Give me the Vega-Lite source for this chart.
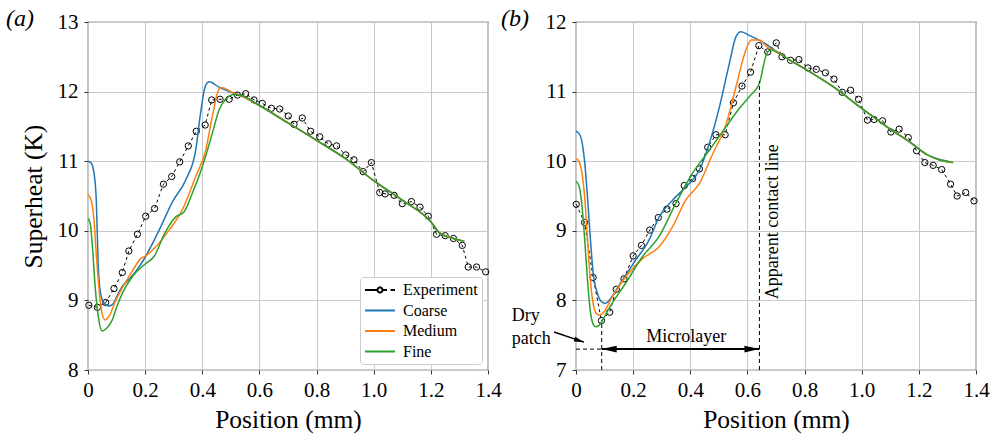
{
"$schema": "https://vega.github.io/schema/vega-lite/v6.json",
"padding": {"left": 5, "top": 6, "right": 10, "bottom": 2},
"spacing": 88,
"bounds": "flush",
"background": "white",
"config": {
  "font": "Liberation Serif, Times New Roman, Times, DejaVu Serif, serif",
  "view": {"stroke": "#333333", "strokeWidth": 1.2},
  "axis": {"labelFont": "Liberation Serif, Times New Roman, Times, DejaVu Serif, serif", "titleFont": "Liberation Serif, Times New Roman, Times, DejaVu Serif, serif", "labelFontSize": 21, "titleFontSize": 25.5, "titleFontWeight": "normal", "labelColor": "black", "titleColor": "black", "gridColor": "#c8c8c8", "gridWidth": 1, "tickColor": "#333333", "tickSize": 4, "domain": false, "labelPadding": 5, "labelFlush": false},
  "axisX": {"titlePadding": 7},
  "axisY": {"titlePadding": 11, "labelPadding": 6},
  "title": {"font": "Liberation Serif, Times New Roman, Times, DejaVu Serif, serif", "fontSize": 24, "fontStyle": "italic", "fontWeight": "normal", "color": "black"},
  "legend": {"labelFont": "Liberation Serif, Times New Roman, Times, DejaVu Serif, serif", "labelFontSize": 16, "labelColor": "black"},
  "text": {"font": "Liberation Serif, Times New Roman, Times, DejaVu Serif, serif"}
},
"resolve": {"scale": {"color": "independent"}, "legend": {"color": "independent"}},
"datasets": {
  "a": [
    {"series":"Experiment","pos":0.003,"sh":8.93},{"series":"Experiment","pos":0.033,"sh":8.9},{"series":"Experiment","pos":0.062,"sh":8.97},{"series":"Experiment","pos":0.091,"sh":9.17},{"series":"Experiment","pos":0.12,"sh":9.4},{"series":"Experiment","pos":0.143,"sh":9.71},{"series":"Experiment","pos":0.173,"sh":9.95},{"series":"Experiment","pos":0.202,"sh":10.21},{"series":"Experiment","pos":0.233,"sh":10.32},{"series":"Experiment","pos":0.264,"sh":10.67},{"series":"Experiment","pos":0.293,"sh":10.78},{"series":"Experiment","pos":0.321,"sh":10.99},{"series":"Experiment","pos":0.351,"sh":11.22},{"series":"Experiment","pos":0.379,"sh":11.43},{"series":"Experiment","pos":0.41,"sh":11.52},{"series":"Experiment","pos":0.433,"sh":11.88},{"series":"Experiment","pos":0.462,"sh":11.89},{"series":"Experiment","pos":0.494,"sh":11.89},{"series":"Experiment","pos":0.523,"sh":11.95},{"series":"Experiment","pos":0.552,"sh":11.97},{"series":"Experiment","pos":0.581,"sh":11.88},{"series":"Experiment","pos":0.61,"sh":11.83},{"series":"Experiment","pos":0.642,"sh":11.76},{"series":"Experiment","pos":0.671,"sh":11.75},{"series":"Experiment","pos":0.701,"sh":11.65},{"series":"Experiment","pos":0.721,"sh":11.53},{"series":"Experiment","pos":0.75,"sh":11.62},{"series":"Experiment","pos":0.779,"sh":11.43},{"series":"Experiment","pos":0.811,"sh":11.35},{"series":"Experiment","pos":0.841,"sh":11.25},{"series":"Experiment","pos":0.87,"sh":11.22},{"series":"Experiment","pos":0.902,"sh":11.09},{"series":"Experiment","pos":0.931,"sh":11.02},{"series":"Experiment","pos":0.963,"sh":10.85},{"series":"Experiment","pos":0.992,"sh":10.98},{"series":"Experiment","pos":1.021,"sh":10.55},{"series":"Experiment","pos":1.04,"sh":10.53},{"series":"Experiment","pos":1.071,"sh":10.51},{"series":"Experiment","pos":1.1,"sh":10.39},{"series":"Experiment","pos":1.132,"sh":10.42},{"series":"Experiment","pos":1.162,"sh":10.34},{"series":"Experiment","pos":1.191,"sh":10.21},{"series":"Experiment","pos":1.22,"sh":9.95},{"series":"Experiment","pos":1.25,"sh":9.93},{"series":"Experiment","pos":1.279,"sh":9.89},{"series":"Experiment","pos":1.31,"sh":9.79},{"series":"Experiment","pos":1.331,"sh":9.48},{"series":"Experiment","pos":1.36,"sh":9.48},{"series":"Experiment","pos":1.392,"sh":9.41},
    {"series":"Coarse","pos":0,"sh":11.0},{"series":"Coarse","pos":0.01,"sh":10.98},{"series":"Coarse","pos":0.021,"sh":10.83},{"series":"Coarse","pos":0.029,"sh":10.44},{"series":"Coarse","pos":0.036,"sh":9.48},{"series":"Coarse","pos":0.044,"sh":9.1},{"series":"Coarse","pos":0.055,"sh":8.97},{"series":"Coarse","pos":0.073,"sh":8.92},{"series":"Coarse","pos":0.088,"sh":8.95},{"series":"Coarse","pos":0.1,"sh":9.05},{"series":"Coarse","pos":0.12,"sh":9.2},{"series":"Coarse","pos":0.143,"sh":9.3},{"series":"Coarse","pos":0.17,"sh":9.43},{"series":"Coarse","pos":0.2,"sh":9.62},{"series":"Coarse","pos":0.249,"sh":10.01},{"series":"Coarse","pos":0.296,"sh":10.42},{"series":"Coarse","pos":0.342,"sh":10.73},{"series":"Coarse","pos":0.377,"sh":11.16},{"series":"Coarse","pos":0.394,"sh":11.69},{"series":"Coarse","pos":0.41,"sh":12.07},{"series":"Coarse","pos":0.424,"sh":12.14},{"series":"Coarse","pos":0.46,"sh":12.06},{"series":"Coarse","pos":0.494,"sh":12.0},{"series":"Coarse","pos":0.53,"sh":11.95},{"series":"Coarse","pos":0.6,"sh":11.8},{"series":"Coarse","pos":0.7,"sh":11.55},{"series":"Coarse","pos":0.8,"sh":11.3},{"series":"Coarse","pos":0.9,"sh":11.04},{"series":"Coarse","pos":1.0,"sh":10.72},{"series":"Coarse","pos":1.1,"sh":10.44},{"series":"Coarse","pos":1.2,"sh":10.13},{"series":"Coarse","pos":1.23,"sh":9.97},{"series":"Coarse","pos":1.27,"sh":9.9},{"series":"Coarse","pos":1.305,"sh":9.86},
    {"series":"Medium","pos":0,"sh":10.52},{"series":"Medium","pos":0.01,"sh":10.45},{"series":"Medium","pos":0.02,"sh":10.2},{"series":"Medium","pos":0.03,"sh":9.6},{"series":"Medium","pos":0.04,"sh":9.1},{"series":"Medium","pos":0.05,"sh":8.8},{"series":"Medium","pos":0.06,"sh":8.72},{"series":"Medium","pos":0.075,"sh":8.78},{"series":"Medium","pos":0.097,"sh":9.0},{"series":"Medium","pos":0.12,"sh":9.18},{"series":"Medium","pos":0.143,"sh":9.34},{"series":"Medium","pos":0.17,"sh":9.52},{"series":"Medium","pos":0.184,"sh":9.6},{"series":"Medium","pos":0.202,"sh":9.64},{"series":"Medium","pos":0.237,"sh":9.77},{"series":"Medium","pos":0.284,"sh":10.01},{"series":"Medium","pos":0.33,"sh":10.3},{"series":"Medium","pos":0.377,"sh":10.78},{"series":"Medium","pos":0.412,"sh":11.16},{"series":"Medium","pos":0.435,"sh":11.64},{"series":"Medium","pos":0.459,"sh":12.04},{"series":"Medium","pos":0.47,"sh":12.06},{"series":"Medium","pos":0.5,"sh":12.0},{"series":"Medium","pos":0.53,"sh":11.95},{"series":"Medium","pos":0.6,"sh":11.8},{"series":"Medium","pos":0.7,"sh":11.55},{"series":"Medium","pos":0.8,"sh":11.3},{"series":"Medium","pos":0.9,"sh":11.04},{"series":"Medium","pos":1.0,"sh":10.72},{"series":"Medium","pos":1.1,"sh":10.44},{"series":"Medium","pos":1.2,"sh":10.13},{"series":"Medium","pos":1.23,"sh":9.97},{"series":"Medium","pos":1.27,"sh":9.9},{"series":"Medium","pos":1.315,"sh":9.85},
    {"series":"Fine","pos":0,"sh":10.18},{"series":"Fine","pos":0.008,"sh":10.1},{"series":"Fine","pos":0.015,"sh":9.8},{"series":"Fine","pos":0.025,"sh":9.2},{"series":"Fine","pos":0.035,"sh":8.8},{"series":"Fine","pos":0.05,"sh":8.56},{"series":"Fine","pos":0.065,"sh":8.6},{"series":"Fine","pos":0.085,"sh":8.72},{"series":"Fine","pos":0.1,"sh":8.9},{"series":"Fine","pos":0.12,"sh":9.1},{"series":"Fine","pos":0.155,"sh":9.34},{"series":"Fine","pos":0.202,"sh":9.53},{"series":"Fine","pos":0.231,"sh":9.63},{"series":"Fine","pos":0.268,"sh":9.96},{"series":"Fine","pos":0.307,"sh":10.2},{"series":"Fine","pos":0.336,"sh":10.27},{"series":"Fine","pos":0.365,"sh":10.54},{"series":"Fine","pos":0.4,"sh":10.92},{"series":"Fine","pos":0.435,"sh":11.4},{"series":"Fine","pos":0.459,"sh":11.74},{"series":"Fine","pos":0.482,"sh":11.89},{"series":"Fine","pos":0.511,"sh":11.96},{"series":"Fine","pos":0.54,"sh":11.94},{"series":"Fine","pos":0.6,"sh":11.8},{"series":"Fine","pos":0.7,"sh":11.55},{"series":"Fine","pos":0.8,"sh":11.3},{"series":"Fine","pos":0.9,"sh":11.04},{"series":"Fine","pos":1.0,"sh":10.72},{"series":"Fine","pos":1.1,"sh":10.44},{"series":"Fine","pos":1.2,"sh":10.13},{"series":"Fine","pos":1.23,"sh":9.97},{"series":"Fine","pos":1.27,"sh":9.9},{"series":"Fine","pos":1.318,"sh":9.85}
  ],
  "b": [
    {"series":"Experiment","pos":0.001,"sh":9.38},{"series":"Experiment","pos":0.03,"sh":9.12},{"series":"Experiment","pos":0.06,"sh":8.33},{"series":"Experiment","pos":0.089,"sh":7.71},{"series":"Experiment","pos":0.118,"sh":7.83},{"series":"Experiment","pos":0.141,"sh":8.16},{"series":"Experiment","pos":0.168,"sh":8.31},{"series":"Experiment","pos":0.2,"sh":8.64},{"series":"Experiment","pos":0.229,"sh":8.79},{"series":"Experiment","pos":0.258,"sh":9.01},{"series":"Experiment","pos":0.288,"sh":9.19},{"series":"Experiment","pos":0.318,"sh":9.31},{"series":"Experiment","pos":0.35,"sh":9.39},{"series":"Experiment","pos":0.379,"sh":9.65},{"series":"Experiment","pos":0.408,"sh":9.75},{"series":"Experiment","pos":0.432,"sh":9.89},{"series":"Experiment","pos":0.461,"sh":10.2},{"series":"Experiment","pos":0.49,"sh":10.38},{"series":"Experiment","pos":0.522,"sh":10.38},{"series":"Experiment","pos":0.551,"sh":10.84},{"series":"Experiment","pos":0.581,"sh":11.08},{"series":"Experiment","pos":0.611,"sh":11.28},{"series":"Experiment","pos":0.64,"sh":11.66},{"series":"Experiment","pos":0.671,"sh":11.57},{"series":"Experiment","pos":0.701,"sh":11.7},{"series":"Experiment","pos":0.721,"sh":11.5},{"series":"Experiment","pos":0.751,"sh":11.45},{"series":"Experiment","pos":0.78,"sh":11.46},{"series":"Experiment","pos":0.812,"sh":11.34},{"series":"Experiment","pos":0.841,"sh":11.32},{"series":"Experiment","pos":0.873,"sh":11.27},{"series":"Experiment","pos":0.903,"sh":11.18},{"series":"Experiment","pos":0.932,"sh":10.99},{"series":"Experiment","pos":0.961,"sh":11.02},{"series":"Experiment","pos":0.989,"sh":10.89},{"series":"Experiment","pos":1.02,"sh":10.59},{"series":"Experiment","pos":1.043,"sh":10.6},{"series":"Experiment","pos":1.073,"sh":10.58},{"series":"Experiment","pos":1.102,"sh":10.42},{"series":"Experiment","pos":1.131,"sh":10.46},{"series":"Experiment","pos":1.163,"sh":10.34},{"series":"Experiment","pos":1.192,"sh":10.15},{"series":"Experiment","pos":1.221,"sh":9.98},{"series":"Experiment","pos":1.25,"sh":9.94},{"series":"Experiment","pos":1.28,"sh":9.88},{"series":"Experiment","pos":1.311,"sh":9.67},{"series":"Experiment","pos":1.334,"sh":9.5},{"series":"Experiment","pos":1.364,"sh":9.55},{"series":"Experiment","pos":1.393,"sh":9.43},
    {"series":"Coarse","pos":0,"sh":10.43},{"series":"Coarse","pos":0.01,"sh":10.4},{"series":"Coarse","pos":0.02,"sh":10.3},{"series":"Coarse","pos":0.03,"sh":10.0},{"series":"Coarse","pos":0.04,"sh":9.5},{"series":"Coarse","pos":0.05,"sh":8.9},{"series":"Coarse","pos":0.06,"sh":8.4},{"series":"Coarse","pos":0.075,"sh":8.1},{"series":"Coarse","pos":0.09,"sh":7.98},{"series":"Coarse","pos":0.104,"sh":7.96},{"series":"Coarse","pos":0.12,"sh":8.02},{"series":"Coarse","pos":0.151,"sh":8.22},{"series":"Coarse","pos":0.209,"sh":8.58},{"series":"Coarse","pos":0.256,"sh":8.87},{"series":"Coarse","pos":0.291,"sh":9.2},{"series":"Coarse","pos":0.338,"sh":9.44},{"series":"Coarse","pos":0.384,"sh":9.63},{"series":"Coarse","pos":0.432,"sh":9.87},{"series":"Coarse","pos":0.467,"sh":10.26},{"series":"Coarse","pos":0.502,"sh":10.78},{"series":"Coarse","pos":0.537,"sh":11.41},{"series":"Coarse","pos":0.56,"sh":11.79},{"series":"Coarse","pos":0.577,"sh":11.86},{"series":"Coarse","pos":0.61,"sh":11.8},{"series":"Coarse","pos":0.64,"sh":11.74},{"series":"Coarse","pos":0.67,"sh":11.67},{"series":"Coarse","pos":0.7,"sh":11.58},{"series":"Coarse","pos":0.75,"sh":11.45},{"series":"Coarse","pos":0.8,"sh":11.33},{"series":"Coarse","pos":0.9,"sh":11.07},{"series":"Coarse","pos":1.0,"sh":10.76},{"series":"Coarse","pos":1.1,"sh":10.46},{"series":"Coarse","pos":1.17,"sh":10.27},{"series":"Coarse","pos":1.23,"sh":10.09},{"series":"Coarse","pos":1.27,"sh":10.03},{"series":"Coarse","pos":1.303,"sh":10.0},
    {"series":"Medium","pos":0,"sh":10.04},{"series":"Medium","pos":0.01,"sh":10.0},{"series":"Medium","pos":0.02,"sh":9.85},{"series":"Medium","pos":0.03,"sh":9.5},{"series":"Medium","pos":0.04,"sh":8.9},{"series":"Medium","pos":0.05,"sh":8.3},{"series":"Medium","pos":0.06,"sh":7.95},{"series":"Medium","pos":0.07,"sh":7.82},{"series":"Medium","pos":0.081,"sh":7.79},{"series":"Medium","pos":0.095,"sh":7.82},{"series":"Medium","pos":0.127,"sh":8.05},{"series":"Medium","pos":0.174,"sh":8.34},{"series":"Medium","pos":0.233,"sh":8.6},{"series":"Medium","pos":0.291,"sh":8.77},{"series":"Medium","pos":0.338,"sh":9.06},{"series":"Medium","pos":0.384,"sh":9.44},{"series":"Medium","pos":0.432,"sh":9.68},{"series":"Medium","pos":0.479,"sh":10.11},{"series":"Medium","pos":0.526,"sh":10.54},{"series":"Medium","pos":0.56,"sh":11.07},{"series":"Medium","pos":0.595,"sh":11.6},{"series":"Medium","pos":0.613,"sh":11.74},{"series":"Medium","pos":0.642,"sh":11.74},{"series":"Medium","pos":0.666,"sh":11.65},{"series":"Medium","pos":0.7,"sh":11.58},{"series":"Medium","pos":0.75,"sh":11.45},{"series":"Medium","pos":0.8,"sh":11.33},{"series":"Medium","pos":0.9,"sh":11.07},{"series":"Medium","pos":1.0,"sh":10.76},{"series":"Medium","pos":1.1,"sh":10.46},{"series":"Medium","pos":1.17,"sh":10.27},{"series":"Medium","pos":1.23,"sh":10.09},{"series":"Medium","pos":1.27,"sh":10.02},{"series":"Medium","pos":1.32,"sh":9.98},
    {"series":"Fine","pos":0,"sh":9.71},{"series":"Fine","pos":0.01,"sh":9.65},{"series":"Fine","pos":0.02,"sh":9.4},{"series":"Fine","pos":0.03,"sh":8.9},{"series":"Fine","pos":0.04,"sh":8.3},{"series":"Fine","pos":0.05,"sh":7.85},{"series":"Fine","pos":0.06,"sh":7.66},{"series":"Fine","pos":0.069,"sh":7.62},{"series":"Fine","pos":0.08,"sh":7.64},{"series":"Fine","pos":0.116,"sh":7.89},{"series":"Fine","pos":0.174,"sh":8.25},{"series":"Fine","pos":0.233,"sh":8.63},{"series":"Fine","pos":0.291,"sh":8.92},{"series":"Fine","pos":0.35,"sh":9.4},{"series":"Fine","pos":0.408,"sh":9.83},{"series":"Fine","pos":0.467,"sh":10.16},{"series":"Fine","pos":0.526,"sh":10.5},{"series":"Fine","pos":0.572,"sh":10.76},{"series":"Fine","pos":0.607,"sh":10.93},{"series":"Fine","pos":0.642,"sh":11.12},{"series":"Fine","pos":0.666,"sh":11.53},{"series":"Fine","pos":0.683,"sh":11.6},{"series":"Fine","pos":0.7,"sh":11.57},{"series":"Fine","pos":0.75,"sh":11.45},{"series":"Fine","pos":0.8,"sh":11.33},{"series":"Fine","pos":0.9,"sh":11.07},{"series":"Fine","pos":1.0,"sh":10.76},{"series":"Fine","pos":1.1,"sh":10.46},{"series":"Fine","pos":1.17,"sh":10.27},{"series":"Fine","pos":1.23,"sh":10.09},{"series":"Fine","pos":1.27,"sh":10.02},{"series":"Fine","pos":1.32,"sh":9.98}
  ]
},
"hconcat": [
  {
    "width": 400, "height": 348,
    "title": {"text": "(a)", "anchor": "start", "frame": "group", "dx": -82, "offset": -20},
    "encoding": {
      "x": {"field": "pos", "type": "quantitative", "scale": {"domain": [0, 1.4], "nice": false}, "axis": {"values": [0, 0.2, 0.4, 0.6, 0.8, 1.0, 1.2, 1.4], "labelExpr": "datum.value === 0 ? '0' : format(datum.value, '.1f')", "title": "Position (mm)", "labelFont": "Liberation Serif, Times New Roman, serif", "titleFont": "Liberation Serif, Times New Roman, serif"}},
      "y": {"field": "sh", "type": "quantitative", "scale": {"domain": [8, 13], "nice": false, "zero": false}, "axis": {"values": [8, 9, 10, 11, 12, 13], "title": "Superheat (K)", "labelFont": "Liberation Serif, Times New Roman, serif", "titleFont": "Liberation Serif, Times New Roman, serif"}}
    },
    "layer": [
      {"data": {"name": "a"}, "transform": [{"filter": "datum.series === 'Experiment'"}],
       "mark": {"type": "line", "strokeDash": [3, 3], "strokeWidth": 1},
       "encoding": {"color": {"field": "series", "type": "nominal",
          "scale": {"domain": ["Experiment", "Coarse", "Medium", "Fine"], "range": ["#000000", "#1f77b4", "#ff7f0e", "#2ca02c"]},
          "legend": {"title": null, "orient": "bottom-right", "offset": 6, "symbolType": "stroke", "symbolSize": 256, "symbolStrokeWidth": 2, "labelOffset": 21, "padding": 4, "fillColor": "white", "strokeColor": "#cccccc", "cornerRadius": 3, "rowPadding": 3.5,
            "encode": {"symbols": {"update": {"shape": {"signal": "datum.value === 'Experiment' ? 'M-1,0L0.56,0M1.19,0A0.31,0.31,0,1,1,0.56,0A0.31,0.31,0,1,1,1.19,0M1.19,0L1.75,0M2.2,0L2.75,0' : 'M-1,0L2.75,0'"}, "strokeDash": {"value": [1, 0]}, "strokeWidth": {"value": 2}}}}}}}},
      {"data": {"name": "a"}, "transform": [{"filter": "datum.series === 'Experiment'"}],
       "mark": {"type": "point", "shape": "circle", "filled": false, "color": "black", "size": 40, "strokeWidth": 1, "opacity": 1}},
      {"data": {"name": "a"}, "transform": [{"filter": "datum.series !== 'Experiment'"}],
       "mark": {"type": "line", "strokeWidth": 1.5, "interpolate": "monotone"},
       "encoding": {"color": {"field": "series", "type": "nominal",
          "scale": {"domain": ["Experiment", "Coarse", "Medium", "Fine"], "range": ["#000000", "#1f77b4", "#ff7f0e", "#2ca02c"]}}}}
    ]
  },
  {
    "width": 400, "height": 348,
    "title": {"text": "(b)", "anchor": "start", "frame": "group", "dx": -75, "offset": -20},
    "encoding": {
      "x": {"field": "pos", "type": "quantitative", "scale": {"domain": [0, 1.4], "nice": false}, "axis": {"values": [0, 0.2, 0.4, 0.6, 0.8, 1.0, 1.2, 1.4], "labelExpr": "datum.value === 0 ? '0' : format(datum.value, '.1f')", "title": "Position (mm)", "labelFont": "Liberation Serif, Times New Roman, serif", "titleFont": "Liberation Serif, Times New Roman, serif"}},
      "y": {"field": "sh", "type": "quantitative", "scale": {"domain": [7, 12], "nice": false, "zero": false}, "axis": {"values": [7, 8, 9, 10, 11, 12], "title": null, "labelFont": "Liberation Serif, Times New Roman, serif"}}
    },
    "layer": [
      {"data": {"name": "b"}, "transform": [{"filter": "datum.series === 'Experiment'"}],
       "mark": {"type": "line", "strokeDash": [3, 3], "strokeWidth": 1},
       "encoding": {"color": {"field": "series", "type": "nominal",
          "scale": {"domain": ["Experiment", "Coarse", "Medium", "Fine"], "range": ["#000000", "#1f77b4", "#ff7f0e", "#2ca02c"]}, "legend": null}}},
      {"data": {"name": "b"}, "transform": [{"filter": "datum.series === 'Experiment'"}],
       "mark": {"type": "point", "shape": "circle", "filled": false, "color": "black", "size": 40, "strokeWidth": 1, "opacity": 1}},
      {"data": {"name": "b"}, "transform": [{"filter": "datum.series !== 'Experiment'"}],
       "mark": {"type": "line", "strokeWidth": 1.5, "interpolate": "monotone"},
       "encoding": {"color": {"field": "series", "type": "nominal",
          "scale": {"domain": ["Experiment", "Coarse", "Medium", "Fine"], "range": ["#000000", "#1f77b4", "#ff7f0e", "#2ca02c"]}, "legend": null}}},
      {"data": {"values": [{"pos": 0.09, "sh": 7, "sh2": 7.71}, {"pos": 0.642, "sh": 7, "sh2": 11.15}]},
       "mark": {"type": "rule", "color": "black", "strokeDash": [4, 3], "strokeWidth": 1},
       "encoding": {"y2": {"field": "sh2"}}},
      {"data": {"values": [{"pos": 0, "pos2": 0.09, "sh": 7.3}]},
       "mark": {"type": "rule", "color": "black", "strokeDash": [4, 3], "strokeWidth": 1},
       "encoding": {"x2": {"field": "pos2"}}},
      {"data": {"values": [{"pos": 0.09, "pos2": 0.642, "sh": 7.3}]},
       "mark": {"type": "rule", "color": "black", "strokeWidth": 2},
       "encoding": {"x2": {"field": "pos2"}}},
      {"data": {"values": [{"pos": 0.09, "sh": 7.3}]},
       "mark": {"type": "point", "shape": "M0,0L2,-0.45L2,0.45Z", "filled": true, "color": "black", "size": 225, "opacity": 1, "strokeWidth": 0}},
      {"data": {"values": [{"pos": 0.642, "sh": 7.3}]},
       "mark": {"type": "point", "shape": "M0,0L-2,-0.45L-2,0.45Z", "filled": true, "color": "black", "size": 225, "opacity": 1, "strokeWidth": 0}},
      {"data": {"values": [{"pos": -0.077, "sh": 7.546, "pos2": 0.028, "sh2": 7.4}]},
       "mark": {"type": "rule", "color": "black", "strokeWidth": 1.5},
       "encoding": {"x2": {"field": "pos2"}, "y2": {"field": "sh2"}}},
      {"data": {"values": [{"pos": 0.028, "sh": 7.4}]},
       "mark": {"type": "point", "shape": "M0,0L-2,-0.5L-2,0.5Z", "filled": true, "color": "black", "size": 100, "opacity": 1, "strokeWidth": 0, "angle": 18}},
      {"data": {"values": [{"pos": 0.386, "sh": 7.48, "label": "Microlayer"}]},
       "mark": {"type": "text", "fontSize": 18, "align": "center", "baseline": "middle", "color": "black"},
       "encoding": {"text": {"field": "label"}}},
      {"data": {"values": [{"pos": 0.691, "sh": 9.13, "label": "Apparent contact line"}]},
       "mark": {"type": "text", "fontSize": 18, "align": "center", "baseline": "middle", "angle": 270, "color": "black"},
       "encoding": {"text": {"field": "label"}}},
      {"data": {"values": [{"pos": -0.225, "sh": 7.77, "label": "Dry\npatch"}]},
       "mark": {"type": "text", "fontSize": 18, "align": "left", "baseline": "middle", "lineBreak": "\n", "lineHeight": 23, "color": "black"},
       "encoding": {"text": {"field": "label"}}}
    ]
  }
]
}
